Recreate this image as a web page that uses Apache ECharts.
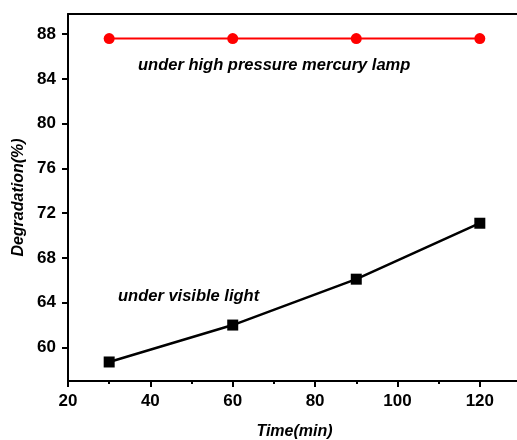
<!DOCTYPE html>
<html>
<head>
<meta charset="utf-8">
<script src="https://cdn.jsdelivr.net/npm/echarts@6/dist/echarts.min.js"></script>
<style>
  html, body { margin: 0; padding: 0; background: #fff; }
  #chart { width: 517px; height: 440px; }
</style>
</head>
<body>
<div id="chart"></div>
<script>
// Irradiation time (min)
const times = [30, 60, 90, 120];
// Degradation (%) under each light source
const mercuryLamp = [87.6, 87.6, 87.6, 87.6];
const visibleLight = [58.7, 62.0, 66.1, 71.1];
// Tick labels
const xTicks = [20, 40, 60, 80, 100, 120];
const xMinorTicks = [30, 50, 70, 90, 110];
const yTicks = [60, 64, 68, 72, 76, 80, 84, 88];

const FONT = '"Liberation Sans", Arial, Helvetica, sans-serif';

const chart = echarts.init(document.getElementById('chart'), null, { renderer: 'canvas' });

const lineStyleAxis = { color: '#000', width: 2 };

chart.setOption({
  animation: false,
  backgroundColor: '#fff',
  grid: { left: 68, right: -4, top: 14, bottom: 59, containLabel: false, outerBoundsMode: 'none' },
  xAxis: [
    {
      type: 'value', min: 20, max: 130, position: 'bottom',
      axisLine: { show: true, onZero: false, lineStyle: lineStyleAxis },
      axisTick: { show: true, inside: false, length: 6, lineStyle: { color: '#000', width: 2 }, customValues: xTicks },
      axisLabel: { show: true, customValues: xTicks, margin: 12, color: '#000', fontSize: 17, fontWeight: 'bold', fontFamily: FONT },
      splitLine: { show: false },
      name: 'Time(min)', nameLocation: 'middle', nameGap: 43,
      nameTextStyle: { color: '#000', fontSize: 16, fontWeight: 'bold', fontStyle: 'italic', fontFamily: FONT }
    },
    {
      // minor ticks along the bottom axis
      type: 'value', min: 20, max: 130, position: 'bottom',
      axisLine: { show: false, onZero: false },
      axisTick: { show: true, inside: false, length: 3, lineStyle: { color: '#000', width: 2 }, customValues: xMinorTicks },
      axisLabel: { show: false },
      splitLine: { show: false }
    },
    {
      // top frame line
      type: 'value', min: 20, max: 130, position: 'top',
      axisLine: { show: true, onZero: false, lineStyle: lineStyleAxis },
      axisTick: { show: false }, axisLabel: { show: false }, splitLine: { show: false }
    }
  ],
  yAxis: [
    {
      type: 'value', min: 57, max: 89.8, position: 'left',
      axisLine: { show: true, onZero: false, lineStyle: lineStyleAxis },
      axisTick: { show: true, inside: false, length: 6, lineStyle: { color: '#000', width: 2 }, customValues: yTicks },
      axisLabel: { show: true, customValues: yTicks, margin: 12, color: '#000', fontSize: 17, fontWeight: 'bold', fontFamily: FONT },
      splitLine: { show: false },
      name: 'Degradation(%)', nameLocation: 'middle', nameGap: 41,
      nameTextStyle: { color: '#000', fontSize: 16, fontWeight: 'bold', fontStyle: 'italic', fontFamily: FONT }
    },
    {
      type: 'value', min: 57, max: 89.8, position: 'right',
      axisLine: { show: true, onZero: false, lineStyle: lineStyleAxis },
      axisTick: { show: false }, axisLabel: { show: false }, splitLine: { show: false }
    }
  ],
  series: [
    {
      name: 'under high pressure mercury lamp',
      type: 'line',
      data: times.map((t, i) => [t, mercuryLamp[i]]),
      symbol: 'circle', symbolSize: 11,
      lineStyle: { color: '#ff0000', width: 2 },
      itemStyle: { color: '#ff0000' },
      z: 5
    },
    {
      name: 'under visible light',
      type: 'line',
      data: times.map((t, i) => [t, visibleLight[i]]),
      symbol: 'rect', symbolSize: 11,
      lineStyle: { color: '#000', width: 2.5 },
      itemStyle: { color: '#000' },
      z: 5
    }
  ],
  graphic: [
    {
      type: 'text', left: 138, top: 57,
      style: { text: 'under high pressure mercury lamp', fill: '#000', font: 'italic bold 16.5px ' + FONT }
    },
    {
      type: 'text', left: 118, top: 288,
      style: { text: 'under visible light', fill: '#000', font: 'italic bold 16.5px ' + FONT }
    }
  ]
});
</script>
</body>
</html>
